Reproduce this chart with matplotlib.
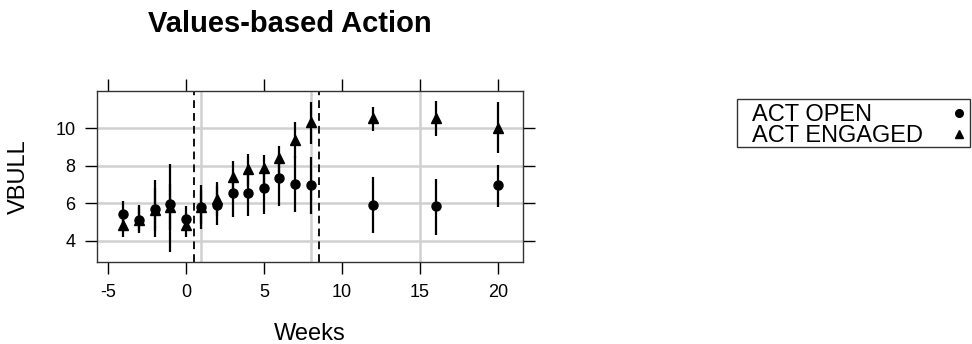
import matplotlib.pyplot as plt
from matplotlib.lines import Line2D
from matplotlib.patches import Rectangle
import numpy as np

plt.rcParams['font.family'] = ['Liberation Sans', 'DejaVu Sans']
plt.rcParams['axes.unicode_minus'] = False

weeks = [-4, -3, -2, -1, 0, 1, 2, 3, 4, 5, 6, 7, 8, 12, 16, 20]

open_mean = [5.43, 5.12, 5.70, 5.95, 5.16, 5.78, 5.92, 6.54, 6.57, 6.81, 7.34, 7.02, 6.98, 5.92, 5.87, 6.95]
open_lo = [4.70, 4.40, 4.50, 3.40, 4.50, 4.63, 4.82, 5.27, 5.34, 5.43, 5.87, 5.53, 5.44, 4.41, 4.32, 5.80]
open_hi = [6.13, 5.90, 6.80, 8.10, 5.87, 6.70, 6.90, 7.60, 7.70, 8.00, 8.60, 8.50, 8.49, 7.39, 7.30, 8.05]

eng_mean = [4.82, 5.10, 5.65, 5.80, 4.86, 5.78, 6.24, 7.39, 7.82, 7.87, 8.40, 9.38, 10.35, 10.53, 10.56, 10.03]
eng_lo = [4.20, 4.50, 4.20, 4.60, 4.20, 4.90, 5.30, 6.40, 6.90, 7.00, 7.60, 8.40, 9.16, 9.87, 9.59, 8.67]
eng_hi = [5.40, 5.80, 7.25, 7.00, 5.50, 6.98, 7.13, 8.26, 8.63, 8.58, 9.07, 10.32, 11.38, 11.12, 11.45, 11.38]

grid_x = [1, 8, 15]
grid_y = [4, 6, 8, 10]
phase_x = [0.5, 8.5]
labels = ['ACT OPEN', 'ACT ENGAGED']

W, H = 972, 344
fig = plt.figure(figsize=(W / 100, H / 100), dpi=100)
ax = fig.add_axes([97 / W, 1 - 262 / H, 426 / W, 171 / H])

for g in grid_x:
    ax.axvline(g, color='#d0d0d0', lw=1.8, zorder=1)
for g in grid_y:
    ax.axhline(g, color='#d0d0d0', lw=1.8, zorder=1)
for p in phase_x:
    ax.axvline(p, color='#111111', lw=1.4, ls=(0, (4, 2.6)), zorder=2)

def draw(mean, lo, hi, marker, ms):
    m = np.array(mean)
    yerr = [m - np.array(lo), np.array(hi) - m]
    ax.errorbar(weeks, m, yerr=yerr, fmt=marker, color='black', ms=ms,
                elinewidth=1.6, capsize=0, zorder=3)

draw(open_mean, open_lo, open_hi, 'o', 6.5)
draw(eng_mean, eng_lo, eng_hi, '^', 7)

ax.set_xlim(-5.69, 21.6)
ax.set_ylim(2.87, 11.98)
ax.set_xticks([-5, 0, 5, 10, 15, 20])
ax.set_yticks([4, 6, 8, 10])
ax.tick_params(direction='out', length=8.6, width=1, labelsize=13, colors='black',
               top=True, right=True, labeltop=False, labelright=False, pad=7)
for s in ax.spines.values():
    s.set_color('#333333')
    s.set_linewidth(1)

fig.text(310 / W, 1 - 334 / H, 'Weeks', fontsize=17, ha='center', va='center')
fig.text(19 / W, 1 - 177 / H, 'VBULL', fontsize=17, ha='center', va='center',
         rotation=90)
fig.text(290 / W, 1 - 24 / H, 'Values-based Action', fontsize=21,
         fontweight='bold', ha='center', va='center')

# key, lattice style: text on the left, symbol on the right
fig.add_artist(Rectangle((737 / W, 1 - 147 / H), 233 / W, 48 / H,
                         transform=fig.transFigure, fill=False,
                         edgecolor='#333333', lw=1))
for i, (lab, mk, ms) in enumerate(zip(labels, ['o', '^'], [5.5, 6])):
    fig.text(752 / W, 1 - (121 + 21.5 * i) / H, lab, fontsize=17,
             ha='left', va='baseline')
    fig.add_artist(Line2D([959 / W], [1 - (112.5 + 21 * i) / H], marker=mk,
                          color='black', ms=ms, ls='none',
                          transform=fig.transFigure))

fig.savefig('out.png', dpi=100)
